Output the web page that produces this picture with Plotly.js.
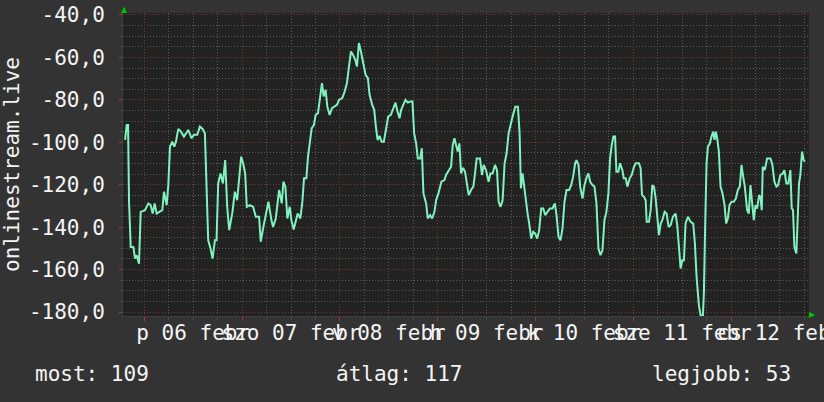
<!DOCTYPE html>
<html>
<head>
<meta charset="utf-8">
<script src="https://cdn.plot.ly/plotly-3.0.1.min.js"></script>
<style>html,body{margin:0;padding:0;background:#333333;}#chart{width:824px;height:402px;}</style>
</head>
<body>
<div id="chart"></div>
<script>
// hours since 06 febr 00:00
const hours = [
-4.73,-4.32,-3.99,-3.75,-3.34,-2.69,-2.28,-1.87,-1.30,-0.89,0.17,0.99,1.56,2.05,2.54,3.03,3.68,4.42,4.83,5.48,5.89,6.30,6.87,7.36,7.76,8.34,8.99,9.72,10.79,11.60,12.17,12.99,13.64,14.30,14.87,15.27,15.68,16.25,16.75,17.32,17.72,18.13,18.70,19.28,19.85,20.34,20.83,21.64,22.22,22.79,23.28,23.77,24.26,24.75,25.15,25.89,26.70,27.36,28.17,28.58,29.15,29.97,30.46,31.20,31.60,32.26,33.07,33.73,34.13,34.62,35.11,35.69,
36.09,36.66,37.15,37.64,38.30,38.79,39.19,39.77,40.17,40.58,41.07,41.64,42.05,42.62,43.20,43.60,44.01,44.50,44.91,45.48,46.05,46.71,47.28,47.77,48.58,49.16,49.73,50.22,50.71,51.20,51.77,52.18,52.67,53.16,53.81,54.30,54.87,55.28,55.93,56.42,56.83,57.24,57.73,58.22,58.79,59.36,59.85,60.50,61.16,61.65,62.14,62.63,63.03,63.61,64.09,64.67,65.24,65.81,66.22,66.71,67.12,67.69,68.10,68.50,69.16,69.56,70.14,70.63,71.20,71.61,72.18,72.91,73.65,74.05,74.71,75.28,75.69,76.10,76.50,76.91,77.32,77.73,78.14,
78.30,78.71,79.12,79.61,80.18,80.75,81.16,81.56,82.38,82.87,83.28,83.85,84.50,84.91,85.48,86.06,86.55,86.95,87.44,87.93,88.42,88.91,89.40,89.81,90.38,91.04,91.69,92.10,92.42,92.83,93.24,93.65,94.06,94.46,94.95,95.44,95.93,96.42,96.91,97.40,97.89,98.38,98.95,99.53,100.18,100.75,101.16,101.65,102.14,102.63,103.12,103.61,104.26,104.75,105.24,105.73,106.06,106.55,106.96,107.53,108.02,108.59,109.00,109.41,109.98,110.47,110.96,111.45,111.94,112.43,112.92,113.40,113.89,114.30,114.71,115.12,115.53,115.85,116.34,116.75,117.32,117.65,118.14,118.55,119.12,119.61,120.18,
120.59,121.40,121.81,122.14,122.63,123.04,123.28,123.85,124.26,124.67,125.08,125.49,125.89,126.30,126.71,127.12,127.69,128.18,128.67,129.16,129.73,130.39,130.79,131.20,131.61,132.02,132.43,132.83,133.41,134.06,134.71,135.12,135.53,136.10,136.51,137.08,137.32,137.65,137.98,138.31,138.79,139.20,139.61,139.94,140.26,140.59,141.00,141.41,141.90,142.39,142.79,143.20,143.61,144.10,144.67,145.16,145.65,146.14,146.55,146.96,147.37,147.94,148.35,148.75,149.16,149.57,149.98,150.39,150.88,151.20,151.53,151.77,152.26,152.84,153.66,154.14,154.63,155.12,155.53,156.10,156.67,157.08,157.57,158.06,158.55,158.88,159.20,159.53,160.02,160.35,160.67,161.00,161.41,161.82,162.14
];
const values = [
-98.9,-91.8,-91.8,-128.0,-149.3,-149.3,-154.8,-153.2,-157.2,-132.8,-132.0,-128.8,-129.6,-133.6,-128.8,-133.6,-132.8,-132.0,-123.3,-129.6,-120.2,-102.1,-99.7,-102.1,-99.7,-93.7,-95.0,-97.3,-94.2,-98.1,-96.5,-96.5,-92.6,-93.7,-95.8,-119.4,-146.2,-150.1,-154.8,-146.2,-146.2,-119.4,-114.7,-119.4,-108.4,-130.4,-141.4,-132.8,-123.3,-127.3,-118.6,-106.8,-109.9,-114.7,-130.4,-129.6,-130.4,-135.1,-135.1,-146.9,-140.6,-132.0,-128.0,-136.7,-139.9,-135.9,-122.5,-128.8,-118.6,-120.9,-135.9,-130.4,
-136.7,-141.1,-137.5,-133.6,-135.9,-128.0,-117.0,-117.0,-106.8,-100.5,-93.4,-91.8,-87.1,-86.3,-78.4,-72.1,-78.4,-75.3,-83.2,-87.1,-83.9,-83.2,-82.4,-80.0,-79.2,-76.1,-72.1,-64.3,-57.2,-58.7,-61.1,-64.3,-53.2,-57.2,-62.7,-68.2,-69.8,-77.6,-82.4,-84.7,-92.6,-98.9,-97.0,-99.7,-99.7,-92.6,-87.9,-87.1,-83.9,-81.3,-85.5,-88.7,-84.7,-82.4,-80.0,-81.3,-80.8,-80.8,-95.8,-100.5,-107.6,-107.6,-102.8,-124.1,-128.8,-135.9,-134.3,-135.9,-132.8,-127.3,-124.1,-118.6,-117.8,-115.4,-113.1,-111.5,-101.3,-98.1,-101.3,-104.4,-100.5,-114.7,-112.3,
-112.3,-113.9,-119.4,-124.9,-122.5,-120.9,-114.7,-107.6,-107.6,-115.4,-110.7,-113.1,-118.6,-114.7,-114.7,-110.7,-113.1,-128.0,-130.4,-127.3,-109.9,-105.2,-95.8,-91.8,-87.9,-83.2,-83.2,-95.8,-121.7,-114.7,-121.7,-126.5,-133.6,-138.3,-145.4,-142.2,-143.0,-145.4,-141.4,-131.2,-131.2,-134.3,-132.8,-131.2,-131.2,-128.8,-134.3,-144.6,-146.2,-140.6,-128.0,-122.5,-122.5,-120.2,-116.2,-109.9,-108.4,-110.7,-120.9,-126.5,-120.2,-116.2,-114.7,-118.6,-120.2,-120.9,-128.8,-150.1,-153.2,-150.9,-136.7,-132.8,-124.1,-107.6,-101.3,-97.3,-97.3,-113.9,-113.9,-109.9,-113.1,-117.0,-117.0,-120.9,-117.0,-115.4,-111.5,
-109.9,-109.9,-112.3,-124.9,-125.7,-127.3,-137.5,-137.5,-132.0,-120.2,-120.9,-126.5,-137.5,-143.8,-138.3,-136.7,-132.8,-133.6,-139.9,-139.1,-135.1,-133.6,-139.1,-151.7,-159.5,-155.6,-155.6,-138.3,-135.1,-137.5,-138.3,-147.7,-163.5,-176.9,-181.6,-181.6,-171.4,-138.3,-109.9,-102.1,-100.5,-97.3,-95.0,-98.9,-95.0,-98.1,-104.4,-120.9,-124.1,-129.6,-138.3,-135.9,-129.6,-128.0,-128.0,-126.5,-122.5,-120.9,-110.7,-116.2,-120.9,-132.0,-133.6,-120.2,-130.4,-136.7,-129.6,-131.2,-124.9,-125.7,-132.0,-111.5,-113.1,-107.6,-107.6,-110.7,-118.6,-120.9,-120.2,-115.4,-114.7,-113.1,-119.4,-119.4,-113.1,-131.2,-132.0,-149.3,-152.4,-131.2,-119.4,-115.4,-104.4,-108.4,-109.1
];
const dayGridHours = [0, 24, 48, 72, 96, 120, 144];
const labelHours = [12, 36, 60, 84, 108, 132, 156];
const dayLabels = ['p 06 febr', 'szo 07 febr', 'v 08 febr', 'h 09 febr', 'k 10 febr', 'sze 11 febr', 'cs 12 febr'];
const yTicks = [-180, -160, -140, -120, -100, -80, -60, -40];
const yTitle = 'onlinestream.live';
const summaryLabels = ['most', 'átlag', 'legjobb'];
const summaryValues = [109, 117, 53];

const FONT = 'DejaVu Sans Mono, monospace';
const xRange = [-5.23, 163.12];
const yRange = [-181.88, -39.06];
const RED = '#7c3434';
const GRAY = '#585858';

const traces = [
  {x: hours, y: values, type: 'scatter', mode: 'lines', xaxis: 'x', yaxis: 'y',
   line: {color: '#80f2bf', width: 2}, hoverinfo: 'skip', showlegend: false},
  {x: hours, y: values, type: 'scatter', mode: 'lines', xaxis: 'x2', yaxis: 'y',
   line: {color: 'rgba(0,0,0,0)', width: 0}, hoverinfo: 'skip', showlegend: false}
];

const summaryX = [-0.1312, 0.3076, 0.768];
const annotations = summaryLabels.map((l, i) => ({
  xref: 'paper', yref: 'paper', x: summaryX[i], y: -0.1914,
  xanchor: 'left', yanchor: 'middle', showarrow: false,
  text: l + ': ' + summaryValues[i],
  font: {family: FONT, size: 21, color: '#f4f4f4'}
}));
annotations.push({xref: 'paper', yref: 'paper', x: 0.0015, y: 1.013, xanchor: 'center', yanchor: 'middle',
  showarrow: false, text: '▲', font: {family: 'DejaVu Sans', size: 8, color: '#00c000'}});
annotations.push({xref: 'paper', yref: 'paper', x: 1.0045, y: 0.004, xanchor: 'center', yanchor: 'middle',
  showarrow: false, text: '▶', font: {family: 'DejaVu Sans', size: 8, color: '#00c000'}});

const layout = {
  width: 824, height: 402,
  margin: {l: 123, r: 15, t: 13, b: 86, pad: 0},
  paper_bgcolor: '#333333', plot_bgcolor: '#222222',
  font: {family: FONT, size: 21, color: '#f4f4f4'},
  showlegend: false,
  xaxis: {
    range: xRange, fixedrange: true, automargin: false,
    tickmode: 'array', tickvals: dayGridHours, showticklabels: false,
    showgrid: true, gridcolor: RED, griddash: '1px,2px', gridwidth: 1,
    ticks: 'outside', ticklen: 4, tickcolor: '#9a3c3c', tickwidth: 1,
    minor: {tickmode: 'linear', tick0: 0, dtick: 6, showgrid: true, gridcolor: GRAY,
            griddash: '1px,2px', gridwidth: 1, ticks: 'outside', ticklen: 3, tickcolor: '#4a4a4a'},
    zeroline: false, showline: true, linecolor: '#3e3e3e', linewidth: 1
  },
  xaxis2: {
    overlaying: 'x', anchor: 'y', side: 'bottom', range: xRange, fixedrange: true, automargin: false,
    tickmode: 'array', tickvals: labelHours, ticktext: dayLabels, tickangle: 0,
    ticklabeloverflow: 'allow', ticks: '', showgrid: false, zeroline: false, showline: false,
    ticklabelstandoff: 2,
    tickfont: {family: FONT, size: 21, color: '#f4f4f4'}
  },
  yaxis: {
    range: yRange, fixedrange: true, automargin: false,
    tickmode: 'array', tickvals: yTicks, ticktext: yTicks.map(v => v.toFixed(1).replace('.', ',')),
    showgrid: true, gridcolor: RED, griddash: '1px,2px', gridwidth: 1,
    ticks: 'outside', ticklen: 3, tickcolor: '#9a3c3c',
    minor: {tickmode: 'linear', tick0: 0, dtick: 5, showgrid: true, gridcolor: GRAY,
            griddash: '1px,2px', gridwidth: 1, ticks: 'outside', ticklen: 2, tickcolor: '#4a4a4a'},
    ticklabelstandoff: 10,
    tickfont: {family: FONT, size: 21, color: '#f4f4f4'},
    zeroline: false, showline: true, linecolor: '#3e3e3e', linewidth: 1,
    title: {text: yTitle, standoff: 20, font: {family: FONT, size: 21, color: '#f4f4f4'}}
  },
  annotations: annotations
};

Plotly.newPlot('chart', traces, layout, {staticPlot: true, displayModeBar: false});
</script>
</body>
</html>
